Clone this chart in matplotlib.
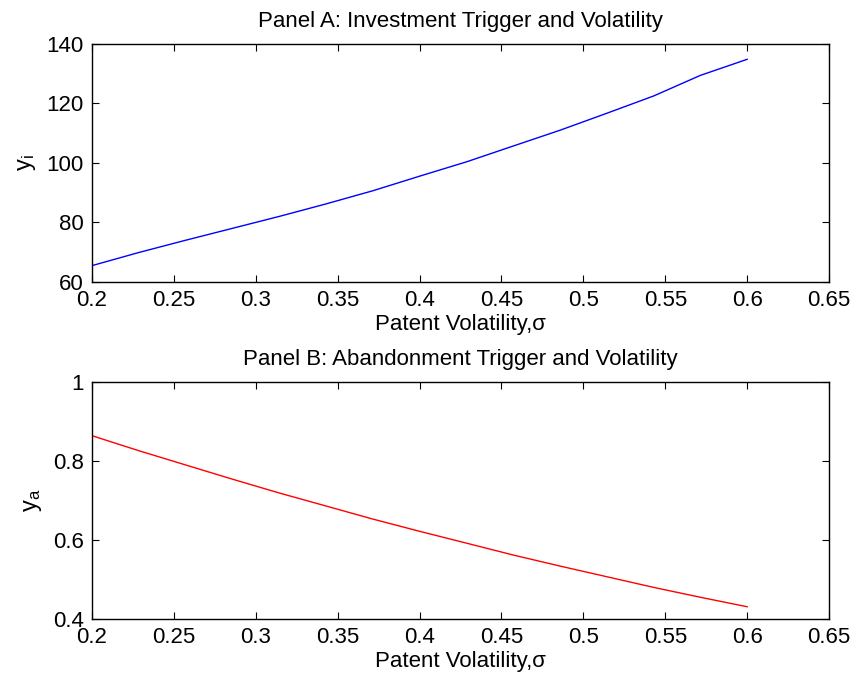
import numpy as np
import matplotlib
matplotlib.use("Agg")
import matplotlib.pyplot as plt

plt.rcParams['font.family'] = ['Liberation Sans', 'DejaVu Sans']
plt.rcParams['mathtext.fontset'] = 'custom'
plt.rcParams['mathtext.rm'] = 'Liberation Sans'
plt.rcParams['mathtext.it'] = 'Liberation Sans'

# volatility grid and trigger values
sigma = [0.2, 0.2286, 0.2571, 0.2857, 0.3143, 0.3429, 0.3714, 0.4,
         0.4286, 0.4571, 0.4857, 0.5143, 0.5429, 0.5714, 0.6]
invest_trigger = [65.5, 69.9, 74.0, 78.0, 82.0, 86.2, 90.6, 95.5,
                  100.3, 105.6, 110.9, 116.6, 122.4, 129.3, 134.7]
abandon_trigger = [0.864, 0.826, 0.790, 0.754, 0.719, 0.686, 0.653, 0.622,
                   0.592, 0.562, 0.534, 0.507, 0.480, 0.455, 0.431]

xticks = [0.2, 0.25, 0.3, 0.35, 0.4, 0.45, 0.5, 0.55, 0.6, 0.65]
xticklabels = ['0.2', '0.25', '0.3', '0.35', '0.4', '0.45', '0.5', '0.55', '0.6', '0.65']

fs = 16
fig = plt.figure(figsize=(8.56, 6.82), dpi=100)
ax1 = fig.add_axes([0.1075, 0.5865, 0.861, 0.3497])
ax2 = fig.add_axes([0.1075, 0.0924, 0.861, 0.3475])


def style(ax):
    ax.set_xlim(0.2, 0.65)
    ax.set_xticks(xticks)
    ax.set_xticklabels(xticklabels)
    ax.tick_params(direction='in', top=True, right=True, length=5, width=0.8,
                   labelsize=fs, pad=6)
    for s in ax.spines.values():
        s.set_linewidth(1.0)


ax1.plot(sigma, invest_trigger, color='#0000ff', lw=1.0)
style(ax1)
ax1.set_ylim(60, 140)
ax1.set_yticks([60, 80, 100, 120, 140])
ax1.set_title('Panel A: Investment Trigger and Volatility', fontsize=fs, pad=12)
ax1.set_xlabel('Patent Volatility,σ', fontsize=fs, labelpad=2)
ax1.set_ylabel(r'$\mathregular{y_i}$', fontsize=fs + 1, labelpad=6)

ax2.plot(sigma, abandon_trigger, color='#ff0000', lw=1.0)
style(ax2)
ax2.set_ylim(0.4, 1.0)
ax2.set_yticks([0.4, 0.6, 0.8, 1.0])
ax2.set_yticklabels(['0.4', '0.6', '0.8', '1'])
ax2.set_title('Panel B: Abandonment Trigger and Volatility', fontsize=fs, pad=12)
ax2.set_xlabel('Patent Volatility,σ', fontsize=fs, labelpad=2)
ax2.set_ylabel(r'$\mathregular{y_a}$', fontsize=fs + 1, labelpad=6)

fig.savefig('out.png', dpi=100)
